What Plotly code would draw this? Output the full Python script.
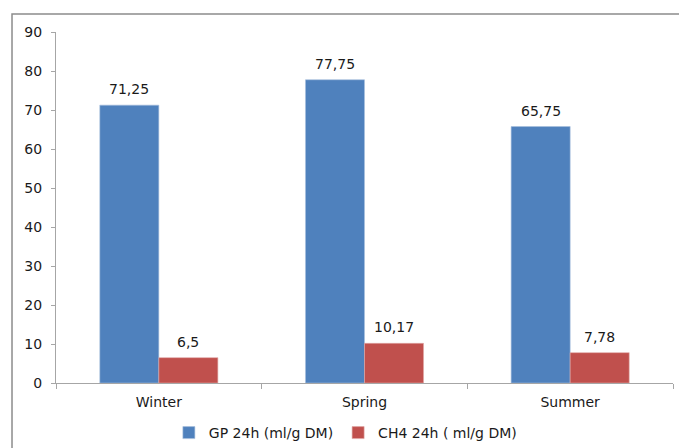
import plotly.graph_objects as go

categories = ["Winter", "Spring", "Summer"]
gp_values = [71.25, 77.75, 65.75]
ch4_values = [6.5, 10.17, 7.78]
gp_labels = ["71,25", "77,75", "65,75"]
ch4_labels = ["6,5", "10,17", "7,78"]
y_ticks = [0, 10, 20, 30, 40, 50, 60, 70, 80, 90]

font_family = "DejaVu Sans, Verdana, sans-serif"
FS = 14

fig = go.Figure()
fig.add_trace(go.Bar(
    x=categories, y=gp_values, name="GP 24h (ml/g DM)",
    marker=dict(color="#4F81BD", line=dict(color="#A7C0DE", width=0.6)),
))
fig.add_trace(go.Bar(
    x=categories, y=ch4_values, name="CH4 24h ( ml/g DM)",
    marker=dict(color="#C0504D", line=dict(color="#E0A8A6", width=0.6)),
))

annotations = []
for cat, v, t in zip(categories, gp_values, gp_labels):
    annotations.append(dict(x=cat, y=v, xref="x", yref="y", text=t, showarrow=False,
                            xshift=-29.5, yshift=6, yanchor="bottom",
                            font=dict(size=FS, color="#1a1a1a")))
for cat, v, t in zip(categories, ch4_values, ch4_labels):
    annotations.append(dict(x=cat, y=v, xref="x", yref="y", text=t, showarrow=False,
                            xshift=29.5, yshift=6, yanchor="bottom",
                            font=dict(size=FS, color="#1a1a1a")))

fig.update_layout(
    width=679, height=448,
    margin=dict(l=56, r=6, t=32, b=0, autoexpand=False),
    paper_bgcolor="white", plot_bgcolor="white",
    font=dict(family=font_family, size=FS, color="#1a1a1a"),
    barmode="group", bargap=0.426, bargroupgap=0,
    showlegend=True,
    legend=dict(orientation="h", x=0.469, xanchor="center", y=0.036, yanchor="middle",
                font=dict(size=FS), itemwidth=30, traceorder="normal"),
    xaxis=dict(showline=True, linecolor="#A6A6A6", linewidth=1,
               ticks="outside", tickson="boundaries", ticklen=5, tickcolor="#A6A6A6",
               showgrid=False, tickfont=dict(size=FS), ticklabelstandoff=6),
    yaxis=dict(range=[0, 90], tickvals=y_ticks, showline=True, linecolor="#A6A6A6",
               linewidth=1, ticks="outside", ticklen=4, tickcolor="#A6A6A6",
               showgrid=False, zeroline=False, tickfont=dict(size=FS),
               ticklabelstandoff=6, domain=[0.15625, 1]),
    annotations=annotations,
    shapes=[dict(type="rect", xref="paper", yref="paper",
                 x0=-0.0713, x1=1.3, y0=-0.5, y1=1.0433,
                 line=dict(color="#8C8C8C", width=1.5), fillcolor="rgba(0,0,0,0)",
                 layer="below")],
)

fig.write_html("out.html")
